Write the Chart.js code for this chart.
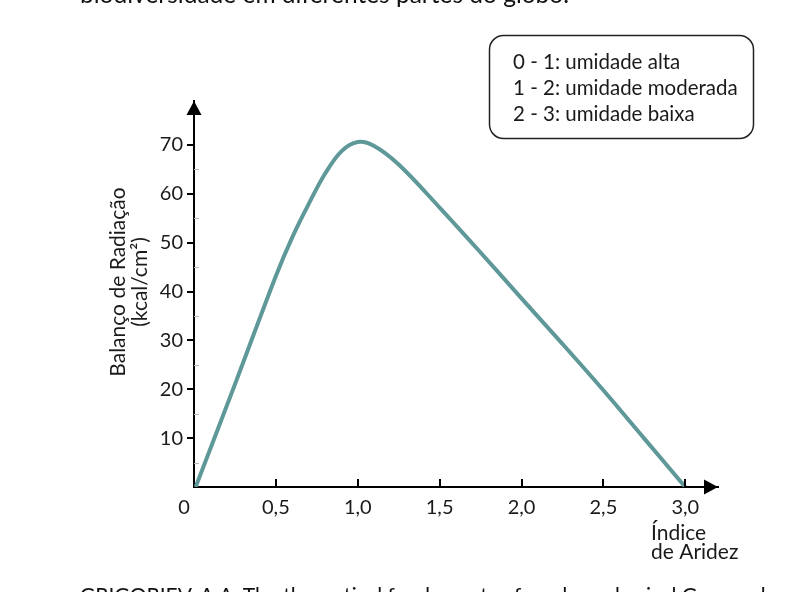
<!DOCTYPE html>
<html>
<head>
<meta charset="utf-8">
<script src="https://cdn.jsdelivr.net/npm/chart.js@4.4.0/dist/chart.umd.min.js"></script>
<style>
html, body { margin: 0; padding: 0; background: #fff; overflow: hidden; }
#wrap { position: relative; width: 805px; height: 592px; }
.cap { position: absolute; left: 80px; font-family: Lato, sans-serif; white-space: nowrap; color: #111; }
</style>
</head>
<body>
<div id="wrap">
  <canvas id="chart" width="805" height="592"></canvas>
  <div class="cap" style="top:-18px;font-size:24.5px;line-height:24.5px">biodiversidade em diferentes partes do globo.</div>
  <div class="cap" style="top:584px;font-size:21px;line-height:21px">GRIGORIEV, A.A. The theoretical fundaments of modern physical Geography</div>
</div>
<script>
// curve
const aridez  = [0.01, 0.25, 0.5, 0.6, 0.7, 0.8, 0.9, 1.0, 1.1, 1.25, 1.5, 1.75, 2.0, 2.25, 2.5, 2.75, 3.0];
const balanco = [0, 21, 43.2, 51.1, 57.9, 64.1, 68.7, 70.6, 69.8, 66.0, 57.2, 48, 38.6, 29.3, 19.8, 9.9, 0];

const xTicks = [0, 0.5, 1.0, 1.5, 2.0, 2.5, 3.0];
const xTickLabels = ['0', '0,5', '1,0', '1,5', '2,0', '2,5', '3,0'];
const yTicks = [10, 20, 30, 40, 50, 60, 70];
const yMinorTicks = [5, 15, 25, 35, 45, 55, 65];

const yTitle = ['Balanço de Radiação', '(kcal/cm²)'];
const xTitle = ['Índice', 'de Aridez'];
const legendLines = ['0 - 1: umidade alta', '1 - 2: umidade moderada', '2 - 3: umidade baixa'];

const FONT = 'Lato, sans-serif';

const decor = {
  id: 'decor',
  afterDraw(chart) {
    const {ctx, chartArea: a, scales: {x, y}} = chart;
    ctx.save();

    // major ticks
    ctx.strokeStyle = '#000';
    ctx.lineWidth = 2;
    ctx.beginPath();
    yTicks.forEach(v => {
      const py = Math.round(y.getPixelForValue(v));
      ctx.moveTo(a.left - 7, py);
      ctx.lineTo(a.left, py);
    });
    xTicks.slice(1).forEach(v => {
      const px = Math.round(x.getPixelForValue(v));
      ctx.moveTo(px, a.bottom);
      ctx.lineTo(px, a.bottom - 8);
    });
    ctx.stroke();

    // minor ticks
    ctx.strokeStyle = '#b5b5b5';
    ctx.lineWidth = 1;
    ctx.beginPath();
    yMinorTicks.forEach(v => {
      const py = Math.round(y.getPixelForValue(v)) + 0.5;
      ctx.moveTo(a.left, py);
      ctx.lineTo(a.left + 5, py);
    });
    ctx.stroke();

    // arrow heads
    ctx.fillStyle = '#000';
    ctx.beginPath();
    ctx.moveTo(a.left, a.top);
    ctx.lineTo(a.left - 7.5, a.top + 14);
    ctx.lineTo(a.left + 7.5, a.top + 14);
    ctx.closePath();
    ctx.fill();
    ctx.beginPath();
    ctx.moveTo(a.right, a.bottom);
    ctx.lineTo(a.right - 14, a.bottom - 7.5);
    ctx.lineTo(a.right - 14, a.bottom + 7.5);
    ctx.closePath();
    ctx.fill();

    ctx.fillStyle = '#1a1a1a';
    ctx.textBaseline = 'middle';

    // y axis title
    ctx.font = '21px ' + FONT;
    ctx.textAlign = 'center';
    ctx.save();
    ctx.translate(118, 282);
    ctx.rotate(-Math.PI / 2);
    ctx.fillText(yTitle[0], 0, 0);
    ctx.fillText(yTitle[1], 0, 22);
    ctx.restore();

    // x axis title
    ctx.textAlign = 'left';
    ctx.fillText(xTitle[0], 651, 533);
    ctx.fillText(xTitle[1], 651, 552);

    // legend box
    ctx.strokeStyle = '#222';
    ctx.lineWidth = 1.5;
    ctx.beginPath();
    ctx.roundRect(489.5, 35.5, 264, 103, 14);
    ctx.stroke();
    ctx.font = '20.5px ' + FONT;
    legendLines.forEach((t, i) => ctx.fillText(t, 513, 62 + i * 26));

    ctx.restore();
  }
};

new Chart(document.getElementById('chart'), {
  type: 'line',
  data: {
    datasets: [{
      data: aridez.map((v, i) => ({x: v, y: balanco[i]})),
      borderColor: '#5f9898',
      borderWidth: 4,
      pointRadius: 0,
      fill: false,
      tension: 0.35
    }]
  },
  options: {
    responsive: false,
    animation: false,
    layout: {padding: {left: 100, top: 101, right: 87, bottom: 0}},
    plugins: {legend: {display: false}, tooltip: {enabled: false}},
    scales: {
      x: {
        type: 'linear',
        min: 0,
        max: 3.2,
        afterFit: s => { s.height = 105; },
        afterBuildTicks: s => { s.ticks = xTicks.map(v => ({value: v})); },
        grid: {display: false, drawTicks: false},
        border: {display: true, color: '#000', width: 2},
        ticks: {
          color: '#1a1a1a',
          font: {family: FONT, size: 20},
          padding: 9,
          maxRotation: 0,
          callback: (v, i) => i === 0 ? xTickLabels[i] + '\u2002\u2002' : xTickLabels[i]
        }
      },
      y: {
        min: 0,
        max: 79,
        afterFit: s => { s.width = 94; },
        afterBuildTicks: s => { s.ticks = yTicks.map(v => ({value: v})); },
        grid: {display: false, drawTicks: false},
        border: {display: true, color: '#000', width: 2},
        ticks: {
          color: '#1a1a1a',
          font: {family: FONT, size: 20},
          padding: 11
        }
      }
    }
  },
  plugins: [decor]
});
</script>
</body>
</html>
